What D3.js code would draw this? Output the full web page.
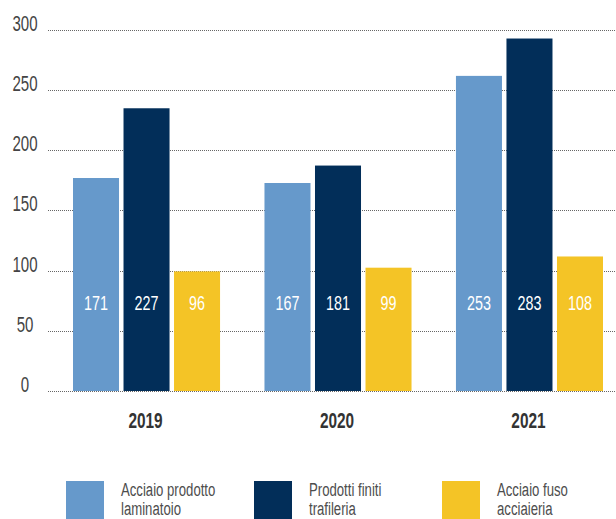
<!DOCTYPE html>
<html>
<head>
<meta charset="utf-8">
<script src="https://cdn.jsdelivr.net/npm/d3@7"></script>
<style>
  html, body { margin: 0; padding: 0; background: #fff; }
  svg { display: block; }
  text { font-family: "Liberation Sans", Arial, sans-serif; }
</style>
</head>
<body>
<svg id="chart" width="616" height="519"></svg>
<script>
// ---- data ----
const years = ["2019", "2020", "2021"];
const seriesNames = ["Acciaio prodotto laminatoio", "Prodotti finiti trafileria", "Acciaio fuso acciaieria"];
const legendLines = [["Acciaio prodotto", "laminatoio"], ["Prodotti finiti", "trafileria"], ["Acciaio fuso", "acciaieria"]];
const laminatoio = [171, 167, 253];
const trafileria = [227, 181, 283];
const acciaieria = [96, 99, 108];
const tickValues = [0, 50, 100, 150, 200, 250, 300];
const colors = ["#6699cb", "#022e59", "#f4c426"];

const seriesValues = [laminatoio, trafileria, acciaieria];
const rows = [];
years.forEach((y, i) => seriesNames.forEach((s, j) => rows.push({ year: y, series: s, si: j, value: seriesValues[j][i] })));

const svg = d3.select("#chart");
const SX = 0.7; // condensed look

function ctext(g, x, y, str, opts) {
  return g.append("text")
    .attr("transform", `translate(${x},${y}) scale(${SX},1)`)
    .attr("text-anchor", opts.anchor || "start")
    .attr("font-size", opts.size)
    .attr("font-weight", opts.weight || "normal")
    .attr("fill", opts.fill)
    .text(str);
}

// scales
const yAxis = d3.scaleLinear().domain([0, 300]).range([391, 29.8]);
// the bars in the original are drawn on a slightly compressed value scale
const yBar = d3.scaleLinear().domain([0, 290]).range([391, 29.8]);
const x0 = d3.scaleBand().domain(years).range([73, 603]).paddingInner(0.232).paddingOuter(0);
const x1 = d3.scaleBand().domain(seriesNames).range([0, x0.bandwidth()]).paddingInner(0.089).paddingOuter(0);
const color = d3.scaleOrdinal().domain(seriesNames).range(colors);

// gridlines
const grid = svg.append("g");
grid.selectAll("line").data(tickValues).join("line")
  .attr("x1", 48).attr("x2", 616)
  .attr("y1", d => Math.round(yAxis(d)) + 0.5).attr("y2", d => Math.round(yAxis(d)) + 0.5)
  .attr("stroke", "#666").attr("stroke-width", 1).attr("stroke-dasharray", "1,1");

// y tick labels
const yl = svg.append("g");
tickValues.forEach(t => ctext(yl, 25, yAxis(t) + 1, String(t), { anchor: "middle", size: 21.5, fill: "#444" }));

// bars
const bars = svg.append("g");
bars.selectAll("rect").data(rows).join("rect")
  .attr("x", d => x0(d.year) + x1(d.series))
  .attr("width", x1.bandwidth())
  .attr("y", d => yBar(d.value))
  .attr("height", d => yBar(0) - yBar(d.value))
  .attr("fill", d => color(d.series));

// value labels
const vl = svg.append("g");
rows.forEach(d => ctext(vl, x0(d.year) + x1(d.series) + x1.bandwidth() / 2, 310, String(d.value),
  { anchor: "middle", size: 20.5, fill: "#fff" }));

// year labels
const xl = svg.append("g");
years.forEach(y => ctext(xl, x0(y) + x0.bandwidth() / 2 - 1, 428, y, { anchor: "middle", size: 22, weight: "bold", fill: "#333" }));

// legend
const lx = d3.scaleBand().domain(seriesNames).range([66, 66 + 3 * 188]).padding(0);
const lg = svg.append("g");
seriesNames.forEach((s, i) => {
  lg.append("rect").attr("x", lx(s)).attr("y", 481).attr("width", 38).attr("height", 38).attr("fill", color(s));
  const t = lg.append("text")
    .attr("transform", `translate(${lx(s) + 55},496) scale(${SX},1)`)
    .attr("font-size", 18.8)
    .attr("fill", "#4d4d4d");
  legendLines[i].forEach((line, k) => t.append("tspan").attr("x", 0).attr("dy", k === 0 ? 0 : 19).text(line));
});
</script>
</body>
</html>
